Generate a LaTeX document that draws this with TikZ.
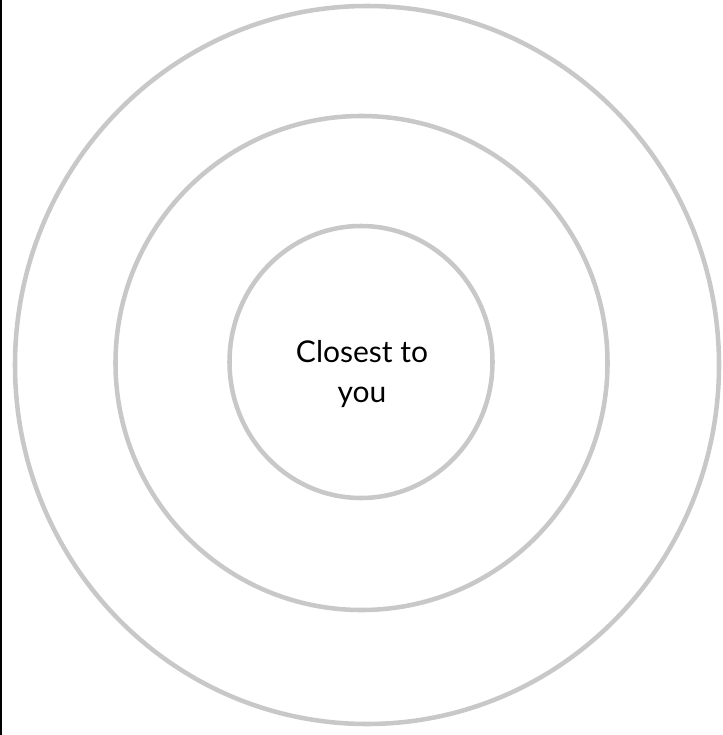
\documentclass[tikz,border=0pt]{standalone}
\usepackage{fontspec}
\setmainfont{Lato}
\definecolor{ringgray}{RGB}{200,200,200}
\usetikzlibrary{positioning}

\begin{document}
\begin{tikzpicture}[x=0.75pt, y=-0.75pt,
    ring/.style={draw=ringgray, line width=3.4pt},
    every node/.style={font=\fontsize{22.5}{30}\selectfont}]
  \useasboundingbox (0,0) rectangle (723,735);
  % left border line
  \draw[black, line width=1.5pt] (1,0) -- (1,735);

  % three rings
  \draw[ring] (367,365) ellipse [x radius=352, y radius=359];
  \draw[ring] (361.5,363) ellipse [x radius=246, y radius=247];
  \draw[ring] (361,362) ellipse [x radius=131.5, y radius=136];

  \node[align=center] (core) at (362,374) {Closest to\\you};
\end{tikzpicture}
\end{document}
